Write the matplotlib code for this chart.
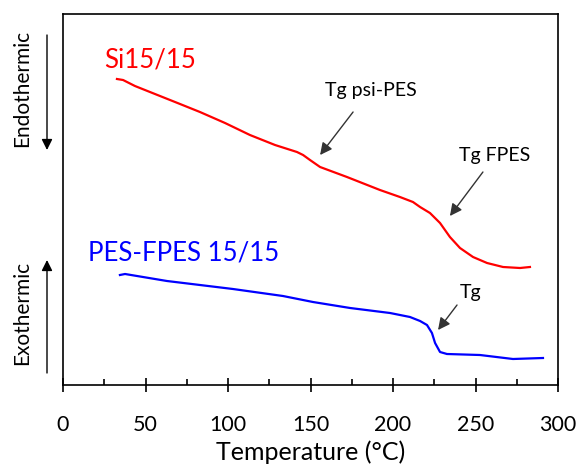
import matplotlib
matplotlib.use("Agg")
import matplotlib.pyplot as plt
from matplotlib.ticker import MultipleLocator

plt.rcParams['font.family'] = ['Lato', 'DejaVu Sans']

# DSC traces: temperature (°C) vs. heat flow (arbitrary units, offset)
si_temp = [32.7, 36.4, 43.6, 52.7, 67.9, 83.0, 98.2, 113.3, 128.5, 141.8,
           145.5, 149.7, 155.8, 172.1, 192.1, 204.2, 212.1, 216.4, 222.4,
           228.5, 234.5, 240.6, 248.5, 257.0, 266.7, 277.0, 283.0]
si_heat = [306, 305, 299, 293, 283, 273, 262, 250, 240, 233,
           230, 225, 218, 208, 195, 188, 183, 178, 172,
           162, 148, 137, 128, 122, 118, 117, 118]

pes_temp = [34.5, 37.6, 63.0, 103.0, 133.3, 151.5, 174.0, 198.2, 210.3,
            216.4, 220.6, 223.6, 225.5, 228.5, 232.7, 252.7, 272.7, 290.9]
pes_heat = [110, 111, 104, 96, 89, 83, 77, 72, 68,
            64, 60, 52, 42, 33, 31, 30, 26, 27]

x_ticks = [0, 50, 100, 150, 200, 250, 300]
x_label = "Temperature (°C)"

W, H = 581, 469
fig = plt.figure(figsize=(W / 100, H / 100), dpi=100)
ax = fig.add_axes([63 / W, (H - 385) / H, 495 / W, 371 / H])

ax.plot(si_temp, si_heat, color='#ff0000', lw=1.6)
ax.plot(pes_temp, pes_heat, color='#0000ff', lw=1.6)

ax.set_xlim(0, 300)
ax.set_ylim(0, 371)
ax.set_xticks(x_ticks)
ax.xaxis.set_minor_locator(MultipleLocator(25))
ax.tick_params(axis='x', which='major', direction='inout', length=9.5,
               width=1.2, labelsize=15.5, pad=17)
ax.tick_params(axis='x', which='minor', direction='in', length=4, width=1.2)
ax.set_yticks([])
for s in ax.spines.values():
    s.set_linewidth(1.2)
ax.set_xlabel(x_label, fontsize=18, labelpad=4)

# Series labels
ax.text(25, 325, "Si15/15", color='#ff0000', fontsize=18.5,
        va='center', ha='left')
ax.text(15, 132, "PES-FPES 15/15", color='#0000ff', fontsize=18.5,
        va='center', ha='left')

# Glass-transition annotations
arrow = dict(arrowstyle='-|>', color='#333333', lw=1.0, mutation_scale=18,
             shrinkA=0, shrinkB=0)
ax.annotate("", xy=(155.8, 230), xytext=(175.8, 273), arrowprops=arrow)
ax.text(186.7, 295, "Tg psi-PES", fontsize=14, ha='center', va='center')
ax.annotate("", xy=(234.5, 169), xytext=(254.5, 213), arrowprops=arrow)
ax.text(261.8, 230, "Tg FPES", fontsize=14, ha='center', va='center')
ax.annotate("", xy=(227.3, 55), xytext=(238.8, 80), arrowprops=arrow)
ax.text(247.3, 93, "Tg", fontsize=14, ha='center', va='center')

# Heat-flow direction indicators outside the axes
side = dict(arrowstyle='-|>', color='black', lw=1.0, mutation_scale=16,
            shrinkA=0, shrinkB=0)
fig.text(22 / W, 1 - 88 / H, "Endothermic", rotation=90, fontsize=15,
         ha='center', va='center')
ax.annotate("", xy=(47 / W, 1 - 150 / H), xytext=(47 / W, 1 - 35 / H),
            xycoords='figure fraction', textcoords='figure fraction',
            arrowprops=side)
fig.text(22 / W, 1 - 313 / H, "Exothermic", rotation=90, fontsize=15,
         ha='center', va='center')
ax.annotate("", xy=(47 / W, 1 - 260 / H), xytext=(47 / W, 1 - 373 / H),
            xycoords='figure fraction', textcoords='figure fraction',
            arrowprops=side)

fig.savefig("out.png", dpi=100)
